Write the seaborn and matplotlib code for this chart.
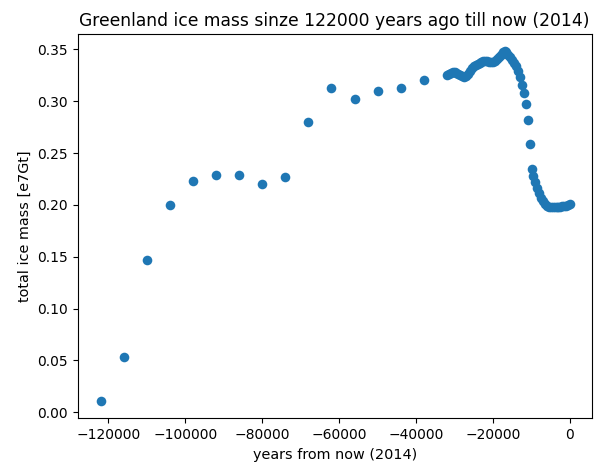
import matplotlib
matplotlib.use("Agg")
import matplotlib.pyplot as plt
import seaborn as sns
import pandas as pd

# coarse samples (every 6000 years)
years_coarse = [-122000, -116000, -110000, -104000, -98000, -92000, -86000,
                -80000, -74000, -68000, -62000, -56000, -50000, -44000, -38000]
mass_coarse = [0.011, 0.053, 0.147, 0.200, 0.223, 0.229, 0.229,
               0.220, 0.227, 0.280, 0.313, 0.302, 0.310, 0.313, 0.320]

# dense samples (every 500 years) from -32000 to 0
years_dense = [-32000, -31500, -31000, -30500, -30000, -29500, -29000, -28500,
               -28000, -27500, -27000, -26500, -26000, -25500, -25000, -24500,
               -24000, -23500, -23000, -22500, -22000, -21500, -21000, -20500,
               -20000, -19500, -19000, -18500, -18000, -17500, -17000, -16500,
               -16000, -15500, -15000, -14500, -14000, -13500, -13000, -12500,
               -12000, -11500, -11000, -10500, -10000, -9500, -9000, -8500,
               -8000, -7500, -7000, -6500, -6000, -5500, -5000, -4500,
               -4000, -3500, -3000, -2500, -2000, -1500, -1000, -500, 0]
mass_dense = [0.325, 0.326, 0.327, 0.328, 0.328, 0.327, 0.326, 0.325,
              0.324, 0.323, 0.324, 0.326, 0.329, 0.332, 0.334, 0.335,
              0.336, 0.337, 0.338, 0.339, 0.339, 0.339, 0.338, 0.338,
              0.338, 0.339, 0.341, 0.343, 0.345, 0.347, 0.348, 0.347,
              0.345, 0.343, 0.340, 0.337, 0.334, 0.329, 0.323, 0.316,
              0.308, 0.297, 0.282, 0.259, 0.235, 0.228, 0.222, 0.216,
              0.211, 0.207, 0.204, 0.201, 0.199, 0.198, 0.198, 0.198,
              0.198, 0.198, 0.198, 0.198, 0.199, 0.199, 0.199, 0.200, 0.201]

df = pd.DataFrame({"year": years_coarse + years_dense,
                   "mass": mass_coarse + mass_dense})

plt.rcParams['font.family'] = ['DejaVu Sans']
fig = plt.figure(figsize=(5.94, 4.65), dpi=100)
ax = fig.add_axes([0.1308, 0.1004, 0.8653, 0.8265])
sns.scatterplot(data=df, x="year", y="mass", color="#1f77b4", s=48,
                linewidth=0, ax=ax)
ax.set_xlim(-127950, 5640)
ax.set_title("Greenland ice mass sinze 122000 years ago till now (2014)", fontsize=12.3)
ax.set_xlabel("years from now (2014)", fontsize=10.4)
ax.set_ylabel("total ice mass [e7Gt]", fontsize=10.4)
ax.tick_params(labelsize=10)
fig.savefig("out.png", dpi=100)
